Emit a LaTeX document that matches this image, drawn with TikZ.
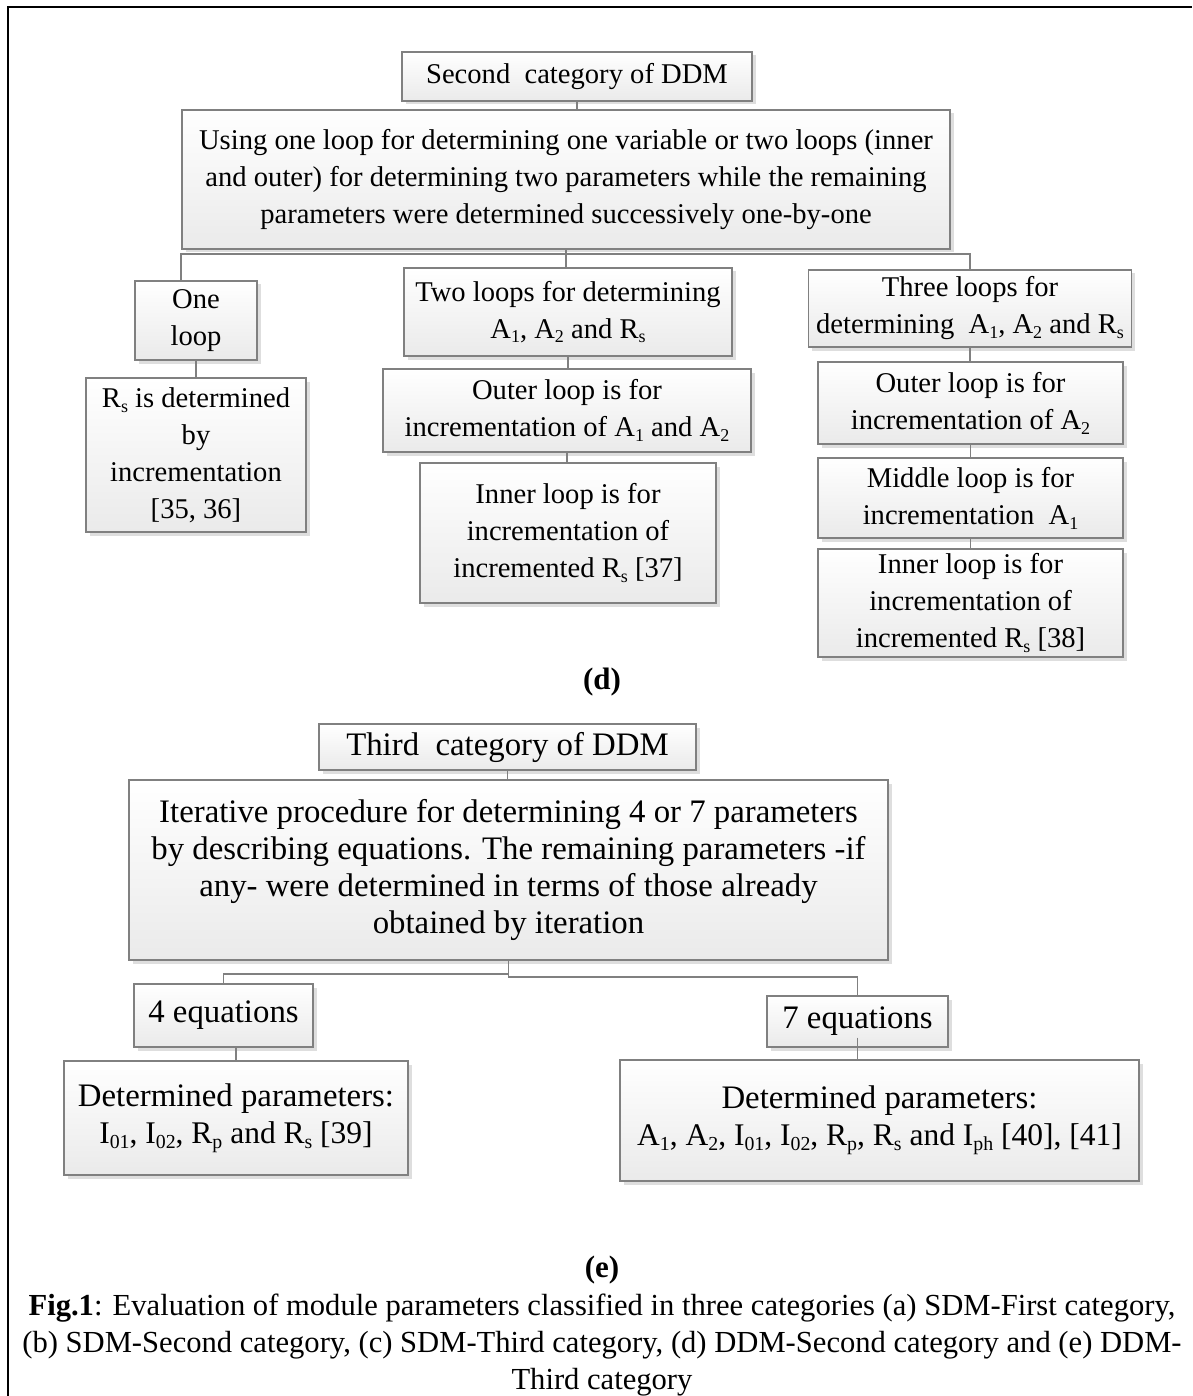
\documentclass[tikz,border=0pt]{standalone}
\usepackage{fontspec}
\setmainfont{Liberation Serif}
\usetikzlibrary{shadows,calc}
\definecolor{boxline}{RGB}{128,128,128}
\definecolor{boxbot}{RGB}{234,234,234}
\newcommand{\sbs}[1]{\raisebox{-0.17em}{\scalebox{0.63}{#1}}}
\newcommand{\dfont}{\fontsize{28.6}{37}\selectfont}
\newcommand{\efont}{\fontsize{32.8}{37}\selectfont}
\newcommand{\esmall}{\fontsize{31.5}{37}\selectfont}
\tikzset{
  box/.style={draw=boxline, line width=1.4pt, top color=white, bottom color=boxbot,
    drop shadow={shadow xshift=3.5pt, shadow yshift=-3.5pt, fill=black, opacity=0.13},
    inner sep=0pt, align=center, font=\dfont},
  ebox/.style={box, font=\efont},
  conn/.style={draw=boxline, line width=1.4pt},
  lbl/.style={font=\fontsize{31}{37}\selectfont\bfseries, inner sep=0pt}
}
\begin{document}
\begin{tikzpicture}[x=1pt,y=-1pt]
\useasboundingbox (0,0) rectangle (1192,1396);
\draw[line width=2.2pt] (8,1396) -- (8,7) -- (1192,7);

% ---------- (d) ----------
\node[box, minimum width=350, minimum height=49] (t2) at (577,76.5) {Second\ \ category of DDM};
\node[box, minimum width=768, minimum height=139] (d2) at (566,179.5)
  {Using one loop for determining one variable or two loops (inner\\and outer) for determining two parameters while the remaining\\parameters were determined successively one-by-one};
\node[box, minimum width=122, minimum height=79] (c1) at (196,320.5) {One\\loop};
\node[box, minimum width=220, minimum height=154] (r1) at (196,455) {R\sbs{s} is determined\\by\\incrementation\\{}[35, 36]};
\node[box, minimum width=328, minimum height=88] (c2) at (568,312) {Two loops for determining\\A\sbs{1}, A\sbs{2} and R\sbs{s}};
\node[box, minimum width=368, minimum height=83] (o2) at (567,410.5) {Outer loop is for\\incrementation of A\sbs{1} and A\sbs{2}};
\node[box, minimum width=296, minimum height=140] (i2) at (568,533) {Inner loop is for\\incrementation of\\incremented R\sbs{s} [37]};
\node[box, minimum width=323, minimum height=77] (c3) at (970,308.5) {Three loops for\\determining\ \ A\sbs{1}, A\sbs{2} and R\sbs{s}};
\node[box, minimum width=305, minimum height=82] (o3) at (970.5,403) {Outer loop is for\\incrementation of A\sbs{2}};
\node[box, minimum width=305, minimum height=80] (m3) at (970.5,498) {Middle loop is for\\incrementation\ \ A\sbs{1}};
\node[box, minimum width=305, minimum height=108] (i3) at (970.5,603) {Inner loop is for\\incrementation of\\incremented R\sbs{s} [38]};
\node[lbl] (ld) at (602,682) {(d)};

\coordinate (bd) at (181,254);
\draw[conn] (t2.south) -- (t2.south |- d2.north);
\draw[conn] (d2.south) -- (d2.south |- bd) -- (bd) -- (bd |- c1.north);
\draw[conn] (d2.south |- bd) -| (c3.north);
\draw[conn] (d2.south) -- (d2.south |- c2.north);
\draw[conn] (c1.south) -- (c1.south |- r1.north);
\draw[conn] (c2.south) -- (c2.south |- o2.north);
\draw[conn] (o2.south) -- (o2.south |- i2.north);
\draw[conn] (c3.south) -- (c3.south |- o3.north);
\draw[conn] (o3.south) -- (o3.south |- m3.north);
\draw[conn] (m3.south) -- (m3.south |- i3.north);

% ---------- (e) ----------
\node[ebox, minimum width=377, minimum height=46] (t3) at (507.5,747) {Third\ \ category of DDM};
\node[ebox, minimum width=759, minimum height=180] (d3) at (508.5,870)
  {Iterative procedure for determining 4 or 7 parameters\\by describing equations. The remaining parameters -if\\any- were determined in terms of those already\\obtained by iteration};
\node[ebox, minimum width=179, minimum height=63] (e4) at (223.5,1015.5) {4 equations};
\node[ebox, minimum width=181, minimum height=51] (e7) at (857.5,1021.5) {7 equations};
\node[ebox, minimum width=344, minimum height=114] (p4) at (236,1118) {Determined parameters:\\{\esmall I\sbs{01}, I\sbs{02}, R\sbs{p} and R\sbs{s} [39]}};
\node[ebox, minimum width=519, minimum height=121] (p7) at (879.5,1120.5) {Determined parameters:\\{\esmall A\sbs{1}, A\sbs{2}, I\sbs{01}, I\sbs{02}, R\sbs{p}, R\sbs{s} and I\sbs{ph} [40], [41]}};
\node[lbl] (le) at (602,1270) {(e)};

\coordinate (be4) at (223,974);
\coordinate (be7) at (857,977);
\draw[conn] (t3.south) -- (t3.south |- d3.north);
\draw[conn] (d3.south) -- (d3.south |- be7) -| (e7.north);
\draw[conn] (d3.south |- be4) -| (e4.north);
\draw[conn] (p4.north) -- (p4.north |- e4.south);
\draw[conn] ($(e7.south)+(0,-10)$) -- (e7.south |- p7.north);

% ---------- caption ----------
\node[font=\fontsize{30.6}{37}\selectfont, align=center, inner sep=0pt] (cap) at (602,1345)
  {\textbf{Fig.1}: Evaluation of module parameters classified in three categories (a) SDM-First category,\\(b) SDM-Second category, (c) SDM-Third category, (d) DDM-Second category and (e) DDM-\\Third category};
\end{tikzpicture}
\end{document}
